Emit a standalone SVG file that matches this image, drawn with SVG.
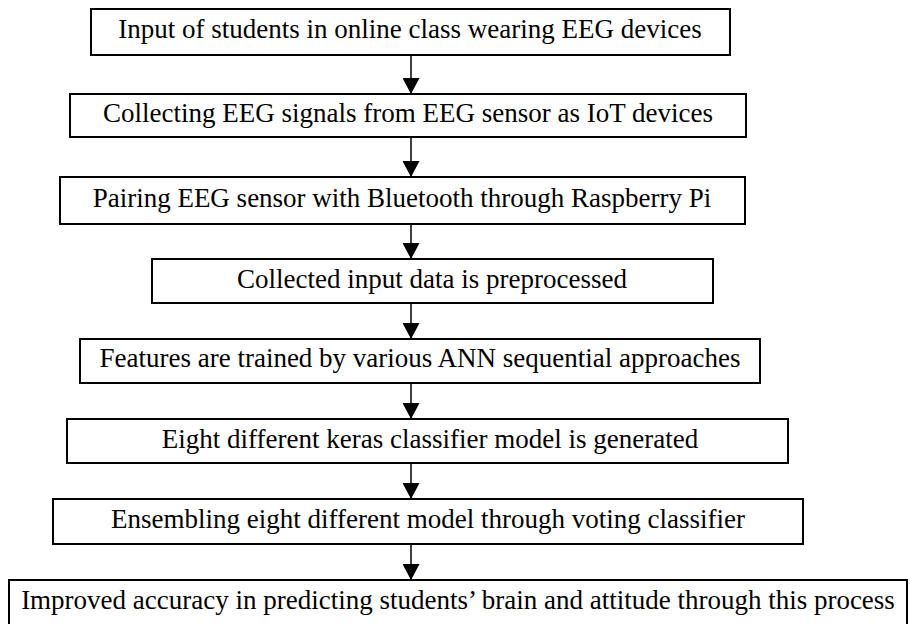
<svg xmlns="http://www.w3.org/2000/svg" width="910" height="624" viewBox="0 0 910 624">
<defs>
<style>
.box{fill:#fff;stroke:#000;stroke-width:2}
.t{font-family:"Liberation Serif","Times New Roman",serif;font-size:27px;fill:#000;text-anchor:middle}
.c{stroke:#000;stroke-width:1.5;fill:none;marker-end:url(#ah)}
</style>
<marker id="ah" viewBox="0 0 16 17" refX="16" refY="8.5" markerWidth="16" markerHeight="17" markerUnits="userSpaceOnUse" orient="auto">
<path d="M0,0 L16,8.5 L0,17 Z" fill="#000"/>
</marker>
</defs>
<rect width="910" height="624" fill="#fff"/>
<g id="connectors">
<line class="c" x1="411" y1="55" x2="411" y2="94"/>
<line class="c" x1="411" y1="137" x2="411" y2="177"/>
<line class="c" x1="411" y1="224" x2="411" y2="259"/>
<line class="c" x1="411" y1="303" x2="411" y2="339"/>
<line class="c" x1="411" y1="383" x2="411" y2="419"/>
<line class="c" x1="411" y1="463" x2="411" y2="499"/>
<line class="c" x1="411" y1="544" x2="411" y2="580"/>
</g>
<g id="n1"><rect class="box" x="91" y="9" width="639" height="46"/><text class="t" x="410" y="38">Input of students in online class wearing EEG devices</text></g>
<g id="n2"><rect class="box" x="70" y="94" width="676" height="43"/><text class="t" x="408" y="122">Collecting EEG signals from EEG sensor as IoT devices</text></g>
<g id="n3"><rect class="box" x="60" y="177" width="685" height="47"/><text class="t" x="402" y="207">Pairing EEG sensor with Bluetooth through Raspberry Pi</text></g>
<g id="n4"><rect class="box" x="152" y="259" width="561" height="44"/><text class="t" x="432" y="288">Collected input data is preprocessed</text></g>
<g id="n5"><rect class="box" x="80" y="339" width="680" height="44"/><text class="t" x="420" y="367">Features are trained by various ANN sequential approaches</text></g>
<g id="n6"><rect class="box" x="67" y="419" width="721" height="44"/><text class="t" x="430" y="448">Eight different keras classifier model is generated</text></g>
<g id="n7"><rect class="box" x="53" y="499" width="750" height="45"/><text class="t" x="428" y="528">Ensembling eight different model through voting classifier</text></g>
<g id="n8"><rect class="box" x="9" y="580" width="898" height="50"/><text class="t" x="458" y="609">Improved accuracy in predicting students’ brain and attitude through this process</text></g>
</svg>
